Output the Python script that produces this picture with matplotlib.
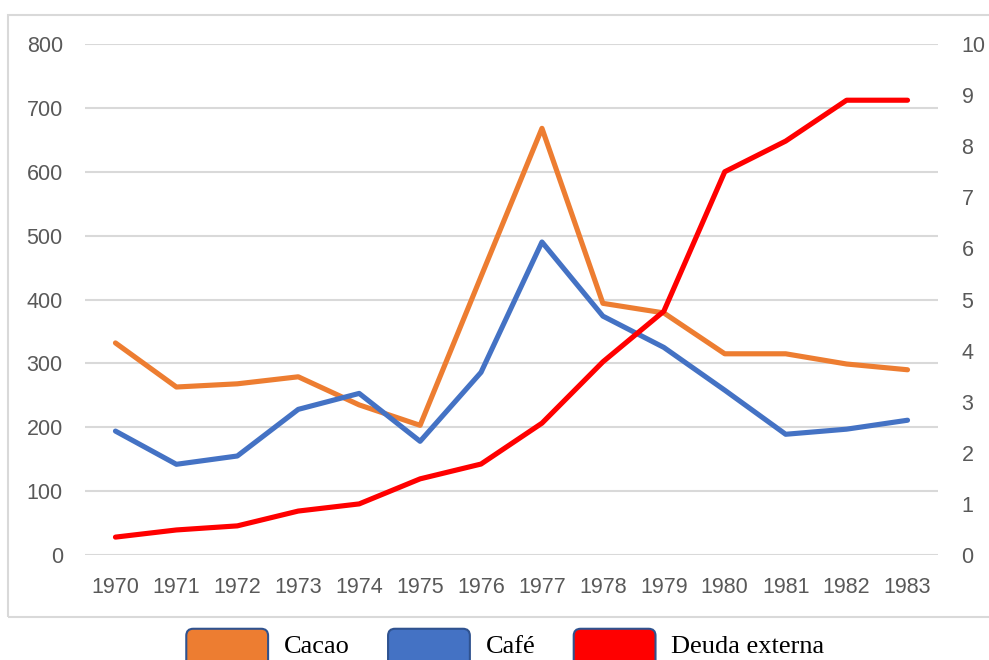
import matplotlib
matplotlib.use("Agg")
import matplotlib.pyplot as plt
from matplotlib.patches import Patch, FancyBboxPatch, Rectangle
from matplotlib.legend_handler import HandlerPatch

years = [1970, 1971, 1972, 1973, 1974, 1975, 1976,
         1977, 1978, 1979, 1980, 1981, 1982, 1983]
cacao = [332, 263, 268, 279, 235, 203, 436,
         668, 394, 379, 315, 315, 299, 290]
cafe = [194, 142, 155, 228, 253, 178, 286,
        490, 374, 325, 258, 189, 197, 211]
deuda = [0.35, 0.49, 0.57, 0.86, 1.0, 1.49, 1.78,
         2.58, 3.78, 4.77, 7.5, 8.1, 8.9, 8.9]

left_ticks = list(range(0, 801, 100))
right_ticks = list(range(0, 11))

tick_color = '#595959'
grid_color = '#d9d9d9'


# legend handle with rounded corners; it runs on below the picture's edge,
# as in the original
class RoundHandler(HandlerPatch):
    def create_artists(self, legend, orig_handle, xdescent, ydescent,
                       width, height, fontsize, trans):
        extra = 12
        p = FancyBboxPatch((-xdescent, -ydescent - extra), width, height + extra,
                           boxstyle="round,pad=0,rounding_size=5",
                           facecolor=orig_handle.get_facecolor(),
                           edgecolor='#2f528f', linewidth=1.5,
                           transform=trans)
        return [p]


fig = plt.figure(figsize=(9.89, 6.6), dpi=100)
ax = fig.add_axes([85 / 989, 1 - 555 / 660, (938 - 85) / 989, (555 - 44) / 660])
ax2 = ax.twinx()

x = list(range(len(years)))

ax.plot(x, cacao, color='#ed7d31', lw=3.7, solid_capstyle='round',
        solid_joinstyle='round')
ax.plot(x, cafe, color='#4472c4', lw=3.7, solid_capstyle='round',
        solid_joinstyle='round')
ax2.plot(x, deuda, color='#ff0000', lw=3.7, solid_capstyle='round',
         solid_joinstyle='round')

ax.set_xlim(-0.5, len(years) - 0.5)
ax.set_ylim(0, 800)
ax2.set_ylim(0, 10)
ax.set_yticks(left_ticks)
ax2.set_yticks(right_ticks)
ax.set_xticks(x)
ax.set_xticklabels([str(y) for y in years])

ax.grid(axis='y', color=grid_color, lw=1.5)
ax.set_axisbelow(True)

for a in (ax, ax2):
    for s in a.spines.values():
        s.set_visible(False)

ax.tick_params(axis='both', length=0, labelsize=15.5, labelcolor=tick_color)
ax.tick_params(axis='y', pad=16)
ax.tick_params(axis='x', pad=16)
ax2.tick_params(axis='y', length=0, labelsize=15.5, labelcolor=tick_color, pad=17)
for lab in ax.get_xticklabels() + ax.get_yticklabels() + ax2.get_yticklabels():
    lab.set_fontfamily('Liberation Sans')

# light border round the chart area
fig.patches.append(Rectangle((8 / 989, 1 - 617 / 660), 1.0, (617 - 15) / 660,
                             transform=fig.transFigure, fill=False,
                             edgecolor=grid_color, lw=1.5))

handles = [Patch(facecolor='#ed7d31', label='Cacao'),
           Patch(facecolor='#4472c4', label='Café'),
           Patch(facecolor='#ff0000', label='Deuda externa')]
fig.legend(handles=handles, loc='center', bbox_to_anchor=(0.511, 1 - 644 / 660),
           ncol=3, frameon=False, handler_map={Patch: RoundHandler()},
           prop={'family': 'Liberation Serif', 'size': 19},
           handlelength=3.1, handleheight=1.4, handletextpad=0.6,
           columnspacing=1.45)

plt.savefig('out.png', dpi=100)
